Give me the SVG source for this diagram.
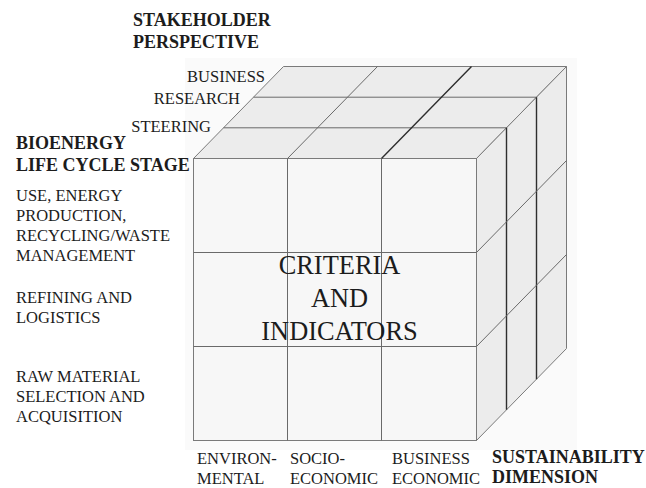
<svg xmlns="http://www.w3.org/2000/svg" width="646" height="488" viewBox="0 0 646 488">
<style>
text{font-family:"Liberation Serif","Times New Roman",serif;fill:#1c1c1c}
.h{font-weight:bold;font-size:18px}
.l{font-size:16.5px}
.c{font-size:26.4px;text-anchor:middle}
.r{text-anchor:end}
.face{stroke:#7a7a7a;stroke-width:1}
.ln{stroke:#6a6a6a;stroke-width:1;fill:none}
.dk{stroke:#2e2e2e;stroke-width:1.4;fill:none}
</style>
<rect x="185" y="58" width="392" height="392" fill="#fafafa"/>
<g id="cube">
<polygon class="face" points="193.5,158.5 476.5,158.5 566.5,66.5 283.5,66.5" fill="#ececec"/>
<polygon class="face" points="476.5,158.5 566.5,66.5 566.5,348.5 476.5,440.5" fill="#ececec"/>
<rect class="face" x="193.5" y="158.5" width="283" height="282" fill="#f7f7f7"/>
</g>
<g id="connectors">
<path class="ln" d="M223.5,127.8H506.5M253.5,97.2H536.5M287.5,158.5L377.5,66.5"/>
<path class="dk" d="M381.5,158.5L471.5,66.5M506.5,127.8V409.8M536.5,97.2V379.2"/>
<path class="ln" d="M476.5,252.5L566.5,160.5M476.5,346.5L566.5,254.5"/>
<path class="ln" d="M287.5,158.5V440.5M381.5,158.5V440.5M193.5,252.5H476.5M193.5,346.5H476.5"/>
</g>
<g id="title-stakeholder">
<text class="h" x="133" y="26">STAKEHOLDER</text>
<text class="h" x="133" y="48">PERSPECTIVE</text>
</g>
<g id="stakeholders">
<text class="l r" x="265" y="82">BUSINESS</text>
<text class="l r" x="240" y="104">RESEARCH</text>
<text class="l r" x="211" y="132">STEERING</text>
</g>
<g id="title-lifecycle">
<text class="h" x="16" y="149">BIOENERGY</text>
<text class="h" x="16" y="171">LIFE CYCLE STAGE</text>
</g>
<g id="stages">
<text class="l" x="16" y="201">USE, ENERGY</text>
<text class="l" x="16" y="221">PRODUCTION,</text>
<text class="l" x="16" y="241">RECYCLING/WASTE</text>
<text class="l" x="16" y="261">MANAGEMENT</text>
<text class="l" x="16" y="303">REFINING AND</text>
<text class="l" x="16" y="323">LOGISTICS</text>
<text class="l" x="16" y="382">RAW MATERIAL</text>
<text class="l" x="16" y="402">SELECTION AND</text>
<text class="l" x="16" y="422">ACQUISITION</text>
</g>
<g id="center">
<text class="c" x="339.5" y="273.5">CRITERIA</text>
<text class="c" x="339.5" y="306.5">AND</text>
<text class="c" x="339.5" y="339.5">INDICATORS</text>
</g>
<g id="dimensions">
<text class="l" x="197" y="464">ENVIRON-</text>
<text class="l" x="197" y="483.5">MENTAL</text>
<text class="l" x="290" y="464">SOCIO-</text>
<text class="l" x="290" y="483.5">ECONOMIC</text>
<text class="l" x="392" y="464">BUSINESS</text>
<text class="l" x="392" y="483.5">ECONOMIC</text>
</g>
<g id="title-sustainability">
<text class="h" x="492" y="463">SUSTAINABILITY</text>
<text class="h" x="492" y="483">DIMENSION</text>
</g>
</svg>
